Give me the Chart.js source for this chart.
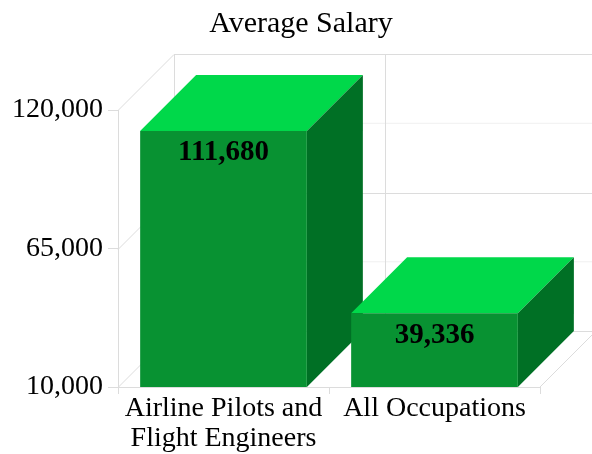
<!DOCTYPE html>
<html>
<head>
<meta charset="utf-8">
<script src="https://cdn.jsdelivr.net/npm/chart.js@4.4.0/dist/chart.umd.min.js"></script>
<style>
  html, body { margin: 0; padding: 0; background: #fff; }
  #wrap { width: 592px; height: 454px; }
</style>
</head>
<body>
<div id="wrap"><canvas id="salaryChart" width="592" height="454"></canvas></div>
<script>
'use strict';

// chart data
const categories = [['Airline Pilots and', 'Flight Engineers'], 'All Occupations'];
const salaries = [111680, 39336];
const yTicks = [10000, 65000, 120000];
const chartTitle = 'Average Salary';

const DEPTH = 56;
const FONT = '"Liberation Serif", "Times New Roman", serif';
const FRONT = '#089232';
const TOP = '#00d84a';
const SIDE = '#007025';
const WALL = '#dcdcdc';

function seg(ctx, x1, y1, x2, y2) {
  ctx.beginPath();
  ctx.moveTo(x1, y1);
  ctx.lineTo(x2, y2);
  ctx.stroke();
}

function face(ctx, pts, color) {
  ctx.beginPath();
  ctx.moveTo(pts[0][0], pts[0][1]);
  for (let i = 1; i < pts.length; i++) ctx.lineTo(pts[i][0], pts[i][1]);
  ctx.closePath();
  ctx.fillStyle = color;
  ctx.fill();
}

// walls, floor and the top/side faces of the boxes
const box3d = {
  id: 'box3d',
  beforeDatasetsDraw(chart) {
    const { ctx, chartArea: a, scales: { y } } = chart;
    const D = DEPTH;
    ctx.save();
    ctx.lineWidth = 1;

    // faint mid lines on back wall
    ctx.strokeStyle = '#f0f0f0';
    for (let i = 0; i < yTicks.length - 1; i++) {
      const py = y.getPixelForValue((yTicks[i] + yTicks[i + 1]) / 2);
      seg(ctx, a.left + D, py - D, a.right + D, py - D);
    }

    ctx.strokeStyle = WALL;
    yTicks.forEach(v => {
      const py = Math.round(y.getPixelForValue(v)) + 0.5;
      seg(ctx, a.left, py, a.left + D, py - D);
      seg(ctx, a.left + D, py - D, a.right + D, py - D);
    });
    const n = categories.length;
    for (let i = 0; i <= n; i++) {
      const px = Math.round(a.left + i * (a.right - a.left) / n) + 0.5;
      seg(ctx, px + D, a.top - D, px + D, a.bottom - D);
    }
    seg(ctx, a.right, a.bottom, a.right + D, a.bottom - D);

    const meta = chart.getDatasetMeta(0);
    meta.data.forEach(bar => {
      const p = bar.getProps(['x', 'y', 'base', 'width'], true);
      const t = p.y, base = Math.min(p.base, a.bottom);
      const l = p.x - p.width / 2, r = p.x + p.width / 2;
      face(ctx, [[l, t], [r, t], [r + D, t - D], [l + D, t - D]], TOP);
      face(ctx, [[r, t], [r + D, t - D], [r + D, base - D], [r, base]], SIDE);
    });
    ctx.restore();
  },
  afterDatasetsDraw(chart) {
    const { ctx } = chart;
    const meta = chart.getDatasetMeta(0);
    ctx.save();
    ctx.font = 'bold 29px ' + FONT;
    ctx.fillStyle = '#000';
    ctx.textAlign = 'center';
    ctx.textBaseline = 'middle';
    meta.data.forEach((bar, i) => {
      ctx.fillText(salaries[i].toLocaleString('en-US'), bar.x, bar.y + 22);
    });
    ctx.restore();
  },
  afterDraw(chart) {
    const { ctx } = chart;
    ctx.save();
    ctx.font = '30px ' + FONT;
    ctx.fillStyle = '#000';
    ctx.textAlign = 'center';
    ctx.textBaseline = 'alphabetic';
    ctx.fillText(chartTitle, 301, 32);
    ctx.restore();
  }
};

new Chart(document.getElementById('salaryChart'), {
  type: 'bar',
  data: {
    labels: categories,
    datasets: [{
      label: chartTitle,
      data: salaries,
      backgroundColor: FRONT,
      borderWidth: 0,
      categoryPercentage: 1,
      barPercentage: 0.79
    }]
  },
  options: {
    responsive: false,
    animation: false,
    layout: { padding: { left: 0, right: 52, top: 110, bottom: 0 } },
    plugins: {
      legend: { display: false },
      tooltip: { enabled: false },
      title: { display: false }
    },
    scales: {
      x: {
        afterFit: s => { s.height = 67; },
        grid: { drawOnChartArea: false, drawTicks: true, tickLength: 7, color: WALL },
        border: { display: true, color: WALL },
        ticks: {
          color: '#000',
          padding: 0,
          maxRotation: 0,
          autoSkip: false,
          font: { family: FONT, size: 28, lineHeight: 1.07 }
        }
      },
      y: {
        min: yTicks[0],
        max: yTicks[yTicks.length - 1],
        afterFit: s => { s.width = 118; },
        afterBuildTicks: s => { s.ticks = yTicks.map(v => ({ value: v })); },
        grid: { drawOnChartArea: false, drawTicks: true, tickLength: 10, color: WALL },
        border: { display: true, color: WALL },
        ticks: {
          color: '#000',
          padding: 5,
          font: { family: FONT, size: 28 },
          callback: v => v.toLocaleString('en-US')
        }
      }
    }
  },
  plugins: [box3d]
});
</script>
</body>
</html>
